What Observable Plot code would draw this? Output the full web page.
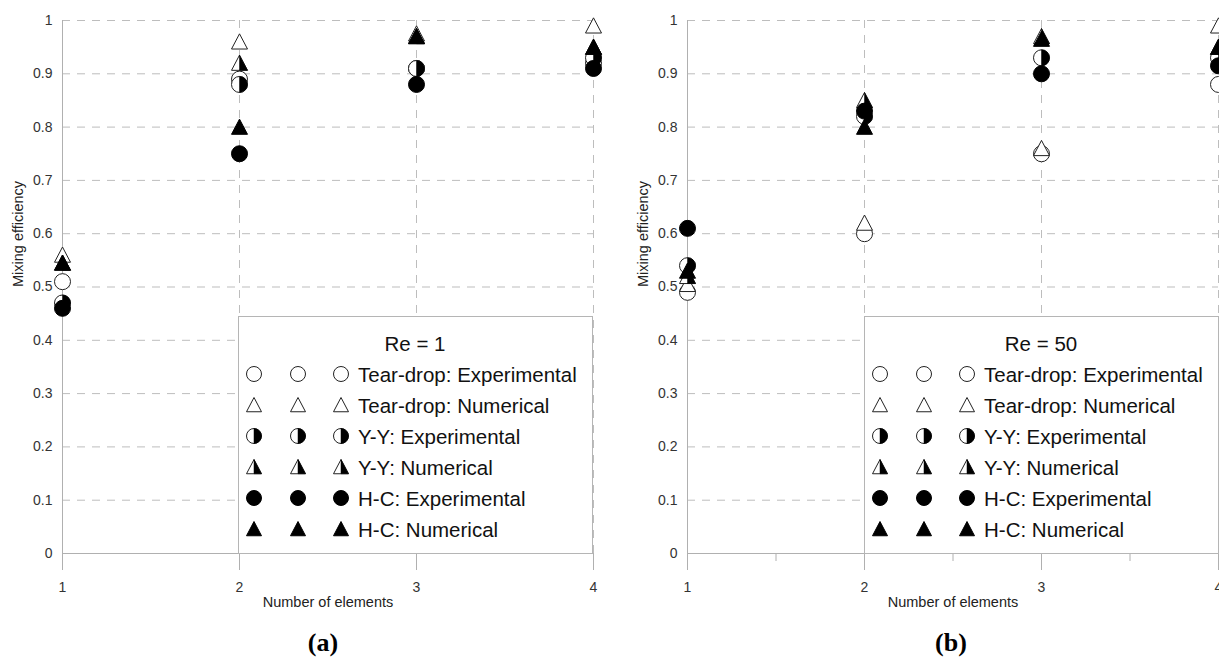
<!DOCTYPE html>
<html><head><meta charset="utf-8">
<script src="https://cdn.jsdelivr.net/npm/d3@7"></script>
<script src="https://cdn.jsdelivr.net/npm/@observablehq/plot@0.6"></script>
<style>
body{margin:0;background:#fff;font-family:"Liberation Sans",Arial,sans-serif;}
#root{position:relative;width:1219px;height:661px;overflow:hidden;background:#fff;}
.panel{position:absolute;top:0;}
.legend{position:absolute;background:#fff;border:1px solid #b5b5b5;box-sizing:border-box;}
.cap{position:absolute;font-family:"Liberation Serif","Times New Roman",serif;font-weight:bold;font-size:26px;color:#000;transform:translate(-50%,-50%);}
</style></head>
<body><div id="root"></div>
<script>
// ---------- data ----------
const elements = [1, 2, 3, 4];
const yTicks = [0, 0.1, 0.2, 0.3, 0.4, 0.5, 0.6, 0.7, 0.8, 0.9, 1];
const seriesNames = ["Tear-drop: Experimental", "Tear-drop: Numerical", "Y-Y: Experimental", "Y-Y: Numerical", "H-C: Experimental", "H-C: Numerical"];

// Re = 1
const re1_tdExp = [0.51, 0.89, 0.91, 0.92];
const re1_tdNum = [0.56, 0.96, 0.975, 0.99];
const re1_yyExp = [0.47, 0.88, 0.91, 0.93];
const re1_yyNum = [0.545, 0.92, 0.97, 0.95];
const re1_hcExp = [0.46, 0.75, 0.88, 0.91];
const re1_hcNum = [0.545, 0.80, 0.97, 0.95];

// Re = 50
const re50_tdExp = [0.49, 0.60, 0.75, 0.88];
const re50_tdNum = [0.505, 0.62, 0.76, 0.99];
const re50_yyExp = [0.54, 0.82, 0.93, 0.93];
const re50_yyNum = [0.52, 0.85, 0.97, 0.95];
const re50_hcExp = [0.61, 0.83, 0.90, 0.915];
const re50_hcNum = [0.53, 0.80, 0.965, 0.95];

// ---------- styles ----------
const seriesShape = ["circle", "triangle", "circle", "triangle", "circle", "triangle"];
const seriesFill = ["open", "open", "half", "half", "solid", "solid"];

const rad = size => Math.sqrt(size / Math.PI);
const circleSym = {draw(c, s) {const r = rad(s); c.moveTo(r, 0); c.arc(0, 0, r, 0, 2 * Math.PI); c.closePath();}};
const halfCircleSym = {draw(c, s) {const r = rad(s); c.moveTo(0, -r); c.arc(0, 0, r, -Math.PI / 2, Math.PI / 2); c.closePath();}};
const triSym = {draw(c, s) {const r = rad(s); c.moveTo(0, -r); c.lineTo(r, r * 0.9); c.lineTo(-r, r * 0.9); c.closePath();}};
const halfTriSym = {draw(c, s) {const r = rad(s); c.moveTo(0, -r); c.lineTo(r, r * 0.9); c.lineTo(0, r * 0.9); c.closePath();}};
const fullSym = shape => shape === "circle" ? circleSym : triSym;
const halfSym = shape => shape === "circle" ? halfCircleSym : halfTriSym;

function seriesMarks(values, i) {
  const rows = elements.map((x, j) => ({x, y: values[j]}));
  const shape = seriesShape[i], fillType = seriesFill[i];
  const marks = [];
  if (fillType === "solid") {
    marks.push(Plot.dot(rows, {x: "x", y: "y", symbol: fullSym(shape), r: 8, fill: "#000", stroke: "#000", strokeWidth: 1}));
  } else {
    marks.push(Plot.dot(rows, {x: "x", y: "y", symbol: fullSym(shape), r: 8, fill: "#fff", stroke: "#222", strokeWidth: 1}));
    if (fillType === "half") marks.push(Plot.dot(rows, {x: "x", y: "y", symbol: halfSym(shape), r: 8, fill: "#000", stroke: "#000", strokeWidth: 0.5}));
  }
  return marks;
}

function panel(seriesValues, minor) {
  const marks = [
    Plot.gridY(yTicks.filter(d => d > 0), {stroke: "#bdbdbd", strokeOpacity: 1, strokeDasharray: "8 7"}),
    Plot.gridX([2, 3, 4], {stroke: "#bdbdbd", strokeOpacity: 1, strokeDasharray: "8 7"}),
    Plot.ruleY([0], {stroke: "#b0b0b0"}),
    Plot.ruleX([1], {y1: 0, y2: 1, stroke: "#b0b0b0"}),
    Plot.axisX({ticks: elements, tickSize: 17, tickPadding: 12, stroke: "#b0b0b0", fill: "#333", fontSize: 14, tickFormat: d => `${d}`, label: null}),
    Plot.axisY({ticks: yTicks, tickSize: 0, tickPadding: 10, fill: "#333", fontSize: 14, tickFormat: d => `${d}`, label: null}),
    Plot.text(["Number of elements"], {frameAnchor: "bottom", dy: 53, fontSize: 14.5, fill: "#222"}),
    Plot.text(["Mixing efficiency"], {frameAnchor: "left", dx: -44, rotate: -90, fontSize: 14.5, fill: "#222"})
  ];
  if (minor) marks.push(Plot.axisX({ticks: [1.5, 2.5, 3.5], tickSize: 8, stroke: "#b0b0b0", tickFormat: () => "", label: null}));
  seriesValues.forEach((v, i) => marks.push(...seriesMarks(v, i)));
  return Plot.plot({
    width: 609, height: 615,
    marginLeft: 62, marginRight: 16, marginTop: 20, marginBottom: 62,
    x: {domain: [1, 4]},
    y: {domain: [0, 1]},
    style: {fontFamily: "'Liberation Sans', Arial, sans-serif", fontSize: "14px", background: "transparent", overflow: "visible"},
    marks
  });
}

function legend(title, left) {
  const div = document.createElement("div");
  div.className = "legend";
  div.style.left = left + "px"; div.style.top = "316px";
  div.style.width = "355px"; div.style.height = "238px";
  const svg = d3.create("svg").attr("width", 353).attr("height", 236).style("position", "absolute").style("left", 0).style("top", 0);
  svg.append("text").attr("x", 176).attr("y", 26).attr("text-anchor", "middle").attr("dominant-baseline", "central")
    .attr("font-size", 20.5).attr("font-family", "'Liberation Sans', Arial, sans-serif").attr("fill", "#111").text(title);
  const symPath = (sym, r) => {const p = d3.path(); sym.draw(p, r * r * Math.PI); return p.toString();};
  seriesNames.forEach((name, i) => {
    const cy = 57 + 31 * i;
    [15, 59, 102].forEach(cx => {
      const g = svg.append("g").attr("transform", `translate(${cx},${cy})`);
      const shape = seriesShape[i], f = seriesFill[i];
      const r = 7.5;
      if (f === "solid") g.append("path").attr("d", symPath(fullSym(shape), r)).attr("fill", "#000").attr("stroke", "#000");
      else {
        g.append("path").attr("d", symPath(fullSym(shape), r)).attr("fill", "#fff").attr("stroke", "#222");
        if (f === "half") g.append("path").attr("d", symPath(halfSym(shape), r)).attr("fill", "#000").attr("stroke", "#000").attr("stroke-width", 0.5);
      }
    });
    svg.append("text").attr("x", 119).attr("y", cy).attr("dominant-baseline", "central")
      .attr("font-size", 20.5).attr("font-family", "'Liberation Sans', Arial, sans-serif").attr("fill", "#111").text(name);
  });
  div.appendChild(svg.node());
  return div;
}

const root = document.getElementById("root");
const pa = panel([re1_tdExp, re1_tdNum, re1_yyExp, re1_yyNum, re1_hcExp, re1_hcNum], false);
pa.classList.add("panel"); pa.style.left = "0px";
const pb = panel([re50_tdExp, re50_tdNum, re50_yyExp, re50_yyNum, re50_hcExp, re50_hcNum], true);
pb.classList.add("panel"); pb.style.left = "625px";
root.appendChild(pa);
root.appendChild(pb);
root.appendChild(legend("Re = 1", 238));
root.appendChild(legend("Re = 50", 864));
const ca = document.createElement("div"); ca.className = "cap"; ca.textContent = "(a)"; ca.style.left = "323px"; ca.style.top = "643px"; root.appendChild(ca);
const cb = document.createElement("div"); cb.className = "cap"; cb.textContent = "(b)"; cb.style.left = "951px"; cb.style.top = "643px"; root.appendChild(cb);
</script>
</body></html>
